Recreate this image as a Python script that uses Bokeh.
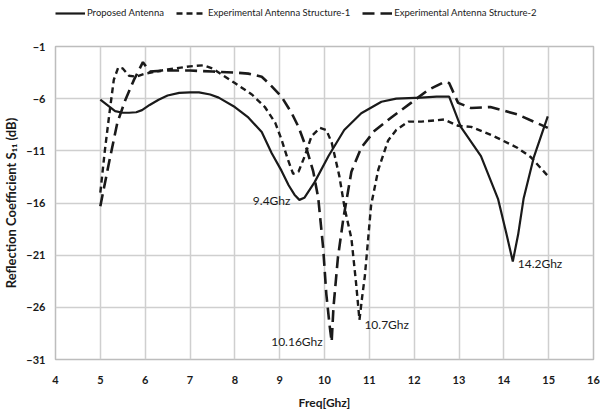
from bokeh.plotting import figure
from bokeh.layouts import column
from bokeh.models import Legend, LegendItem, FixedTicker, Label
from bokeh.embed import file_html
from bokeh.resources import INLINE

# Proposed Antenna (solid)
prop_x = [5.0, 5.15, 5.33, 5.5, 5.64, 5.8, 5.93, 6.1, 6.3, 6.5, 6.76, 7.0, 7.2, 7.45, 7.64, 8.0, 8.3, 8.6, 8.82, 9.04, 9.2, 9.33, 9.44, 9.55,
          9.78, 10.09, 10.44, 10.82, 11.27, 11.6, 12.16, 12.5, 12.78, 13.04, 13.49, 13.87, 14.05, 14.2, 14.32, 14.44, 14.67, 14.98]
prop_y = [-6.1, -6.6, -7.2, -7.35, -7.35, -7.3, -7.1, -6.6, -6.1, -5.7, -5.45, -5.4, -5.4, -5.6, -5.9, -6.8, -7.8, -9.2, -11.2, -12.9, -14.3, -15.2, -15.7, -15.5,
          -14.0, -11.5, -9.0, -7.4, -6.3, -6.0, -5.9, -5.8, -5.8, -8.7, -11.5, -15.6, -18.8, -21.6, -19.0, -15.6, -11.6, -7.7]

# Experimental Antenna Structure-1 (short dashes)
s1_x = [5.0, 5.1, 5.2, 5.3, 5.4, 5.5, 5.64, 5.8, 6.0, 6.5, 7.0, 7.3, 7.5, 7.71, 8.0, 8.38, 8.67, 8.9, 9.04, 9.18, 9.3, 9.42, 9.56, 9.71, 9.9, 10.04,
        10.16, 10.33, 10.45, 10.6, 10.7, 10.78, 10.84, 10.9, 10.97, 11.04, 11.2, 11.42, 11.6, 11.87, 12.16, 12.67, 12.98, 13.27, 13.78, 14.3, 14.6, 14.98]
s1_y = [-15.0, -11.0, -7.5, -4.2, -3.0, -3.1, -3.8, -3.9, -3.6, -3.2, -2.9, -2.8, -3.1, -3.7, -4.5, -5.6, -6.8, -8.3, -9.9, -11.8, -13.2, -13.0, -11.5, -9.6, -8.8, -9.0,
        -10.2, -13.4, -16.5, -19.4, -23.5, -27.2, -25.0, -23.0, -19.6, -16.2, -12.8, -10.0, -9.0, -8.2, -8.2, -8.0, -8.6, -8.7, -9.6, -10.7, -11.6, -13.4]

# Experimental Antenna Structure-2 (long dashes)
s2_x = [5.0, 5.2, 5.38, 5.56, 5.75, 5.95, 6.1, 6.5, 7.0, 7.5, 8.0, 8.3, 8.6, 8.75, 9.04, 9.27, 9.42, 9.6, 9.75, 9.86, 9.97, 10.04, 10.11, 10.16,
        10.2, 10.3, 10.42, 10.5, 10.6, 10.82, 11.11, 11.49, 11.93, 12.3, 12.67, 12.78, 12.98, 13.27, 13.7, 14.3, 14.98]
s2_y = [-16.3, -12.0, -8.3, -6.1, -4.2, -2.5, -3.4, -3.3, -3.3, -3.4, -3.5, -3.6, -3.9, -4.5, -5.8, -7.4, -8.7, -10.8, -13.0, -15.5, -20.3, -24.7, -27.6, -29.3,
        -26.0, -21.2, -17.5, -15.5, -13.0, -10.7, -9.1, -7.8, -6.4, -5.2, -4.4, -4.5, -6.4, -6.9, -6.8, -7.5, -8.8]

series_names = ["Proposed Antenna", "Experimental Antenna Structure-1", "Experimental Antenna Structure-2"]

x_ticks = list(range(4, 17))
y_ticks = [-1, -6, -11, -16, -21, -26, -31]

ann_text = ["9.4Ghz", "10.16Ghz", "10.7Ghz", "14.2Ghz"]
ann_x = [9.24, 9.96, 10.89, 14.31]
ann_y = [-15.8, -29.3, -27.6, -21.8]
ann_align = ["right", "right", "left", "left"]

FONT = "Lato"
INK = "#1a1a1a"
styles = [dict(line_width=2.2), dict(line_width=2.4, line_dash="6 4"), dict(line_width=2.6, line_dash="12 6")]
all_x = [prop_x, s1_x, s2_x]
all_y = [prop_y, s1_y, s2_y]

# ---- legend strip above the chart (its lines lie outside its view; only the legend shows) ----
lf = figure(width=600, height=20, output_backend="svg", toolbar_location=None,
            x_range=(0, 1), y_range=(0, 1), x_axis_type=None, y_axis_type=None,
            min_border_left=0, min_border_right=0, min_border_top=0, min_border_bottom=0)
lf.grid.visible = False
lf.outline_line_color = None
leg_r = [lf.line(xs, ys, line_color=INK, **st) for xs, ys, st in zip(all_x, all_y, styles)]
legend = Legend(items=[LegendItem(label=n, renderers=[r]) for n, r in zip(series_names, leg_r)],
                orientation="horizontal", location=(0, 2),
                label_text_font=FONT, label_text_font_size="9.5px", label_text_color=INK,
                glyph_width=30, glyph_height=8, label_standoff=2, spacing=12,
                padding=0, margin=0, border_line_color=None, background_fill_alpha=0)
lf.add_layout(legend)

# ---- main chart ----
p = figure(width=600, height=392, output_backend="svg", toolbar_location=None,
           x_range=(4, 16), y_range=(-31, -1),
           min_border_left=53, min_border_right=7, min_border_top=26, min_border_bottom=49)

for xs, ys, st in zip(all_x, all_y, styles):
    p.line(xs, ys, line_color=INK, **st)

for t, x, y, a in zip(ann_text, ann_x, ann_y, ann_align):
    p.add_layout(Label(x=x, y=y, text=t, text_align=a, text_baseline="middle",
                       text_font=FONT, text_font_size="12px", text_color=INK))

p.xaxis.ticker = FixedTicker(ticks=x_ticks)
p.yaxis.ticker = FixedTicker(ticks=y_ticks)
for ax in (p.xaxis[0], p.yaxis[0]):
    ax.axis_line_color = None
    ax.major_tick_line_color = None
    ax.minor_tick_line_color = None
    ax.major_label_text_font = FONT
    ax.major_label_text_font_size = "11px"
    ax.major_label_text_font_style = "bold"
    ax.major_label_text_color = INK
    ax.axis_label_text_font = FONT
    ax.axis_label_text_font_size = "12px"
    ax.axis_label_text_font_style = "bold"
    ax.axis_label_text_color = INK
p.xaxis.major_label_standoff = 10
p.yaxis.major_label_standoff = 4
p.xaxis.axis_label = "Freq[Ghz]"
p.xaxis.axis_label_standoff = 8
p.yaxis.axis_label = "Reflection Coefficient S\u2081\u2081 (dB)"
p.yaxis.axis_label_text_font_size = "13px"
p.yaxis.axis_label_standoff = 4

p.xgrid.grid_line_color = "#cfcfcf"
p.ygrid.grid_line_color = "#cfcfcf"
p.xgrid.grid_line_width = 1.5
p.ygrid.grid_line_width = 1.5
p.outline_line_color = "#bdbdbd"
p.outline_line_width = 1.5

page = column(lf, p, spacing=0)
open("out.html", "w").write(file_html(page, INLINE))
